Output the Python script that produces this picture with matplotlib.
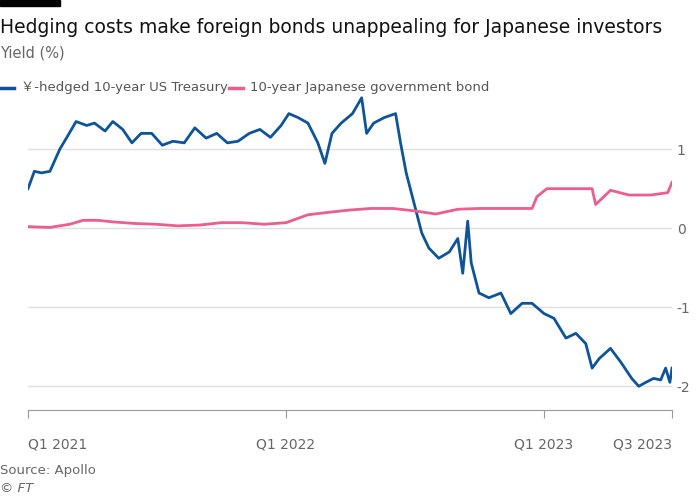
import matplotlib
matplotlib.use("Agg")
import matplotlib.pyplot as plt
import pandas as pd

us_dates = ["2021-01-01","2021-01-10","2021-01-20","2021-02-01","2021-02-15","2021-02-25","2021-03-10","2021-03-25",
 "2021-04-05","2021-04-20","2021-05-01","2021-05-15","2021-05-28","2021-06-10","2021-06-25","2021-07-10","2021-07-25",
 "2021-08-10","2021-08-25","2021-09-10","2021-09-25","2021-10-10","2021-10-25","2021-11-10","2021-11-25","2021-12-10",
 "2021-12-25","2022-01-05","2022-01-18","2022-02-01","2022-02-15","2022-02-25","2022-03-07","2022-03-20","2022-04-05",
 "2022-04-18","2022-04-25","2022-05-05","2022-05-20","2022-06-05","2022-06-12","2022-06-20","2022-07-01","2022-07-12",
 "2022-07-22","2022-08-05","2022-08-20","2022-09-01","2022-09-08","2022-09-15","2022-09-20","2022-10-01","2022-10-15",
 "2022-11-01","2022-11-15","2022-12-01","2022-12-15","2023-01-01","2023-01-15","2023-02-01","2023-02-15","2023-03-01",
 "2023-03-10","2023-03-20","2023-04-05","2023-04-20","2023-05-05","2023-05-15","2023-05-25","2023-06-05","2023-06-15",
 "2023-06-22","2023-06-28","2023-07-01"]
us_vals = [0.5,0.72,0.7,0.72,1.0,1.15,1.35,1.3,1.33,1.23,1.35,1.25,1.08,1.2,1.2,1.05,1.1,1.08,1.27,1.14,1.2,1.08,1.1,1.2,
 1.25,1.15,1.3,1.45,1.4,1.33,1.08,0.82,1.2,1.33,1.45,1.65,1.2,1.33,1.4,1.45,1.08,0.7,0.32,-0.06,-0.25,-0.38,-0.3,-0.13,
 -0.57,0.09,-0.44,-0.82,-0.88,-0.82,-1.08,-0.95,-0.95,-1.08,-1.14,-1.39,-1.33,-1.46,-1.77,-1.65,-1.52,-1.7,-1.9,-2.0,
 -1.95,-1.9,-1.92,-1.77,-1.95,-1.77]

jp_dates = ["2021-01-01","2021-02-01","2021-03-01","2021-03-20","2021-04-10","2021-05-01","2021-06-01","2021-07-01",
 "2021-08-01","2021-09-01","2021-10-01","2021-11-01","2021-12-01","2022-01-01","2022-02-01","2022-03-01","2022-04-01",
 "2022-05-01","2022-06-01","2022-07-01","2022-08-01","2022-09-01","2022-10-01","2022-11-01","2022-12-15","2022-12-22",
 "2023-01-05","2023-01-20","2023-02-15","2023-03-10","2023-03-15","2023-04-05","2023-05-01","2023-06-01","2023-06-25",
 "2023-07-01"]
jp_vals = [0.02,0.01,0.05,0.1,0.1,0.08,0.06,0.05,0.03,0.04,0.07,0.07,0.05,0.07,0.17,0.2,0.23,0.25,0.25,0.22,0.18,0.24,
 0.25,0.25,0.25,0.4,0.5,0.5,0.5,0.5,0.3,0.48,0.42,0.42,0.45,0.58]

us_d = pd.to_datetime(us_dates); jp_d = pd.to_datetime(jp_dates)
blue = "#0f5499"; pink = "#eb5e8d"

fig = plt.figure(figsize=(7, 5), dpi=100)
ax = fig.add_axes([0.04, 0.18, 0.92, 0.656])
ax.plot(us_d, us_vals, color=blue, lw=2)
ax.plot(jp_d, jp_vals, color=pink, lw=2)
ax.set_xlim(pd.Timestamp("2021-01-01"), pd.Timestamp("2023-07-01"))
ax.set_ylim(-2.3, 1.85)
ax.yaxis.tick_right()
ax.set_yticks([-2, -1, 0, 1])
ax.set_yticklabels(["-2", "-1", "0", "1"])
ax.grid(axis="y", color="#e0e0e0", lw=1)
for s in ["top", "right", "left"]:
    ax.spines[s].set_visible(False)
ax.spines["bottom"].set_color("#999999")
ax.tick_params(axis="y", length=0, labelsize=10, colors="#666666")
ax.tick_params(axis="x", length=6, pad=14, color="#999999", labelsize=10, labelcolor="#666666")
ticks = pd.to_datetime(["2021-01-01", "2022-01-01", "2023-01-01", "2023-07-01"])
ax.set_xticks(ticks)
ax.set_xticklabels(["Q1 2021", "Q1 2022", "Q1 2023", "Q3 2023"])
ax.get_xticklabels()[0].set_horizontalalignment("left")
ax.get_xticklabels()[-1].set_horizontalalignment("right")
for lbl in ax.get_xticklabels():
    lbl.set_y(0)

fig.patches.append(plt.Rectangle((0, 0.988), 0.085, 0.012, transform=fig.transFigure, color="black"))
fig.text(0.0, 0.945, "Hedging costs make foreign bonds unappealing for Japanese investors", fontsize=13.5, color="#111111", va="center")
fig.text(0.0, 0.895, "Yield (%)", fontsize=10.5, color="#666666", va="center")
fig.lines.append(plt.Line2D([0.0, 0.02], [0.824, 0.824], color=blue, lw=2.5, transform=fig.transFigure))
fig.text(0.03, 0.824, "￥-hedged 10-year US Treasury", fontsize=9.5, color="#555555", va="center", family=["DejaVu Sans", "Noto Sans CJK JP"])
fig.lines.append(plt.Line2D([0.327, 0.347], [0.824, 0.824], color=pink, lw=2.5, transform=fig.transFigure))
fig.text(0.357, 0.824, "10-year Japanese government bond", fontsize=9.5, color="#555555", va="center")
fig.text(0.0, 0.052, "Source: Apollo", fontsize=9.5, color="#666666")
fig.text(0.0, 0.015, "© FT", fontsize=9.5, color="#666666", style="italic")
fig.savefig("out.png", dpi=100, facecolor="white")
